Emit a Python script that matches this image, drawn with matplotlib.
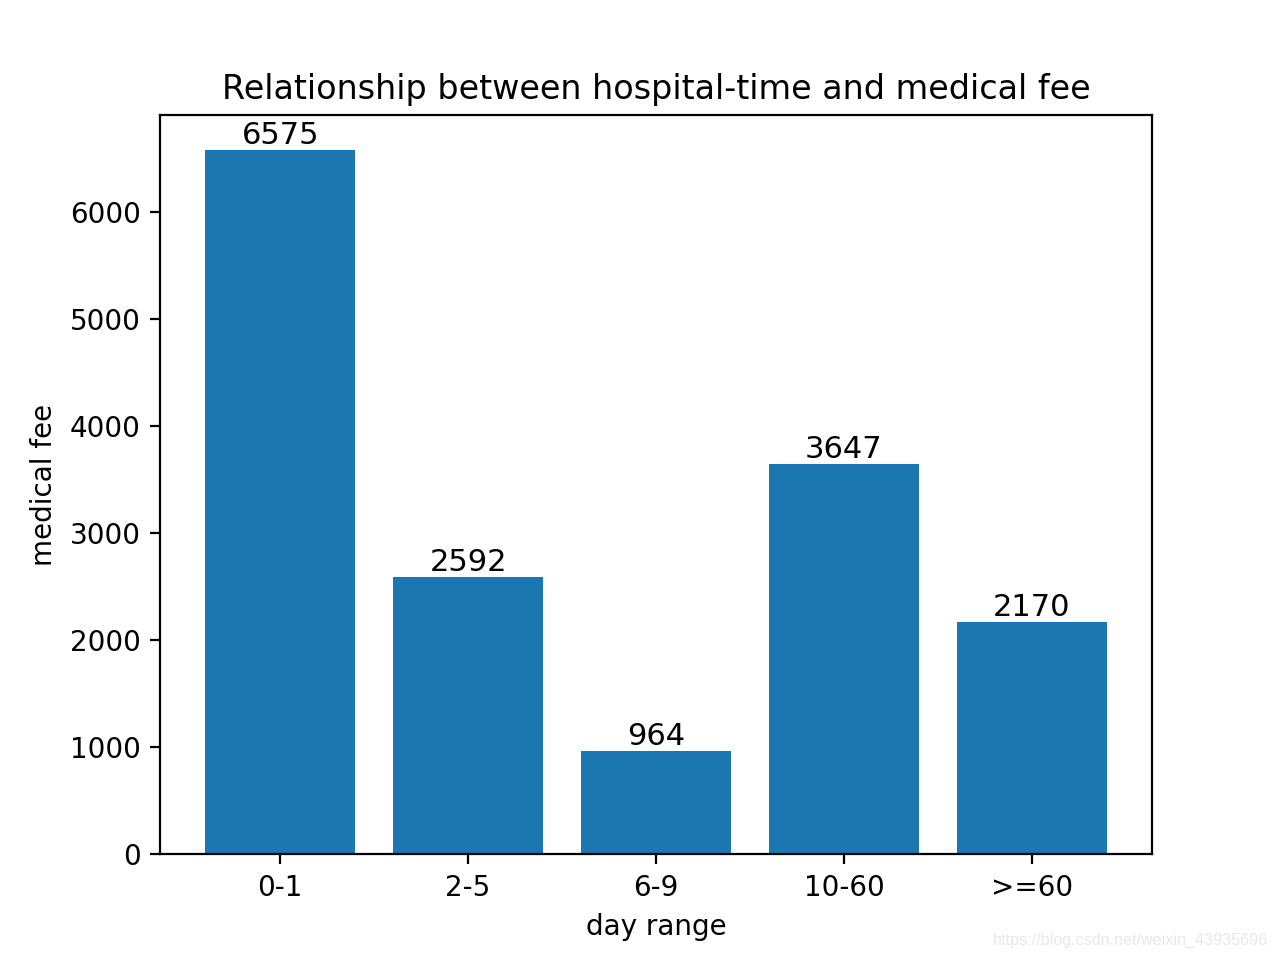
import matplotlib
matplotlib.use("Agg")
import matplotlib.pyplot as plt

categories = ["0-1", "2-5", "6-9", "10-60", ">=60"]
values = [6575, 2592, 964, 3647, 2170]

fig, ax = plt.subplots(figsize=(6.4, 4.8), dpi=200)
bars = ax.bar(categories, values, color="#1c77b1")
for b, v in zip(bars, values):
    ax.text(b.get_x() + b.get_width() / 2, b.get_height(), str(v),
            ha="center", va="bottom", fontsize=11)
ax.set_title("Relationship between hospital-time and medical fee", fontsize=12)
ax.set_xlabel("day range")
ax.set_ylabel("medical fee")
fig.text(0.991, 0.012, "https://blog.csdn.net/weixin_43935696", ha="right",
         va="bottom", fontsize=5.8, color="#e8e8e8", family="Liberation Sans")
fig.savefig("out.png", dpi=200)
